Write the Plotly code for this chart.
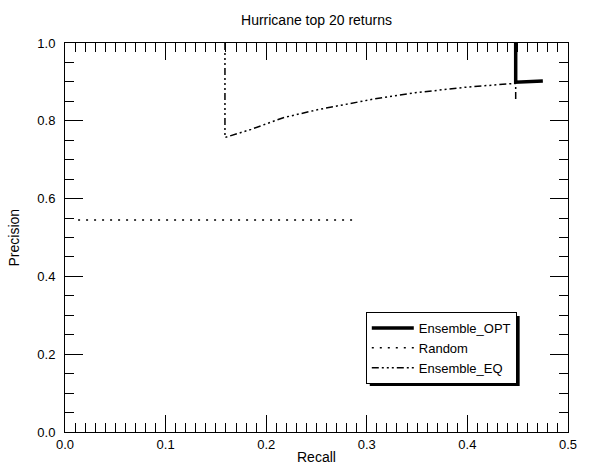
import plotly.graph_objects as go

# ---- data ----
opt_recall = [0.448, 0.448, 0.475]
opt_precision = [1.0, 0.899, 0.902]

random_recall = [0.013, 0.287]
random_precision = [0.545, 0.545]

eq_recall = [0.159, 0.159, 0.185, 0.217, 0.250, 0.283, 0.307, 0.348, 0.397, 0.446, 0.448, 0.448]
eq_precision = [1.0, 0.757, 0.778, 0.808, 0.828, 0.845, 0.856, 0.872, 0.886, 0.896, 0.896, 0.850]

x_ticks = [0.0, 0.1, 0.2, 0.3, 0.4, 0.5]
y_ticks = [0.0, 0.2, 0.4, 0.6, 0.8, 1.0]

FONT = "Liberation Sans, Arial, Helvetica, sans-serif"

fig = go.Figure()
fig.add_trace(go.Scatter(x=eq_recall, y=eq_precision, mode="lines", name="Ensemble_EQ",
                         legendrank=3,
                         line=dict(color="black", width=1.5,
                                   dash="7px,3px,2px,3px,2px,3px,2px,3px")))
fig.add_trace(go.Scatter(x=random_recall, y=random_precision, mode="lines", name="Random",
                         legendrank=2,
                         line=dict(color="black", width=1.5, dash="2px,6px")))
fig.add_trace(go.Scatter(x=opt_recall, y=opt_precision, mode="lines", name="Ensemble_OPT",
                         legendrank=1,
                         line=dict(color="black", width=3.5)))

axis_common = dict(
    showline=True, linecolor="black", linewidth=1, mirror="ticks",
    ticks="inside", tickcolor="black", tickwidth=1,
    showgrid=False, zeroline=False,
    tickfont=dict(family=FONT, size=13, color="black"),
)

fig.update_xaxes(range=[0, 0.5], tickvals=x_ticks, ticktext=[f"{v:.1f}" for v in x_ticks],
                 ticklen=17,
                 minor=dict(dtick=0.01, ticklen=9, ticks="inside", tickcolor="black", tickwidth=1),
                 **axis_common)
fig.update_yaxes(range=[0, 1], tickvals=y_ticks, ticktext=[f"{v:.1f}" for v in y_ticks],
                 ticklen=18, ticklabelstandoff=6,
                 minor=dict(dtick=0.05, ticklen=9, ticks="inside", tickcolor="black", tickwidth=1),
                 **axis_common)

LEG_X = 0.598
LEG_Y = 0.3085

fig.update_layout(
    width=589, height=464,
    margin=dict(l=65, r=14, t=43, b=32),
    paper_bgcolor="white", plot_bgcolor="white",
    font=dict(family=FONT, size=13, color="black"),
    showlegend=True,
    title=dict(text="Hurricane top 20 returns", x=0.5, xref="paper",
               y=1 - 20 / 464, yref="container", yanchor="middle", xanchor="center",
               font=dict(family=FONT, size=14, color="black")),
    legend=dict(x=LEG_X, y=LEG_Y, xanchor="left", yanchor="top",
                bgcolor="white", bordercolor="black", borderwidth=1,
                font=dict(family=FONT, size=13, color="black"),
                itemwidth=42, tracegroupgap=0),
    annotations=[
        dict(text="Recall", xref="paper", yref="paper", x=0.5, y=0, yshift=-25,
             showarrow=False, xanchor="center", yanchor="middle",
             font=dict(family=FONT, size=14, color="black")),
        dict(text="Precision", xref="paper", yref="paper", x=0, y=0.5, xshift=-52,
             showarrow=False, textangle=-90, xanchor="center", yanchor="middle",
             font=dict(family=FONT, size=14, color="black")),
    ],
    shapes=[
        dict(type="rect", xref="paper", yref="paper",
             x0=LEG_X + 4 / 510, x1=LEG_X + 156 / 510,
             y0=LEG_Y - 74 / 389, y1=LEG_Y - 4 / 389,
             fillcolor="black", line=dict(width=0), layer="above"),
    ],
)

fig.write_html("out.html")
